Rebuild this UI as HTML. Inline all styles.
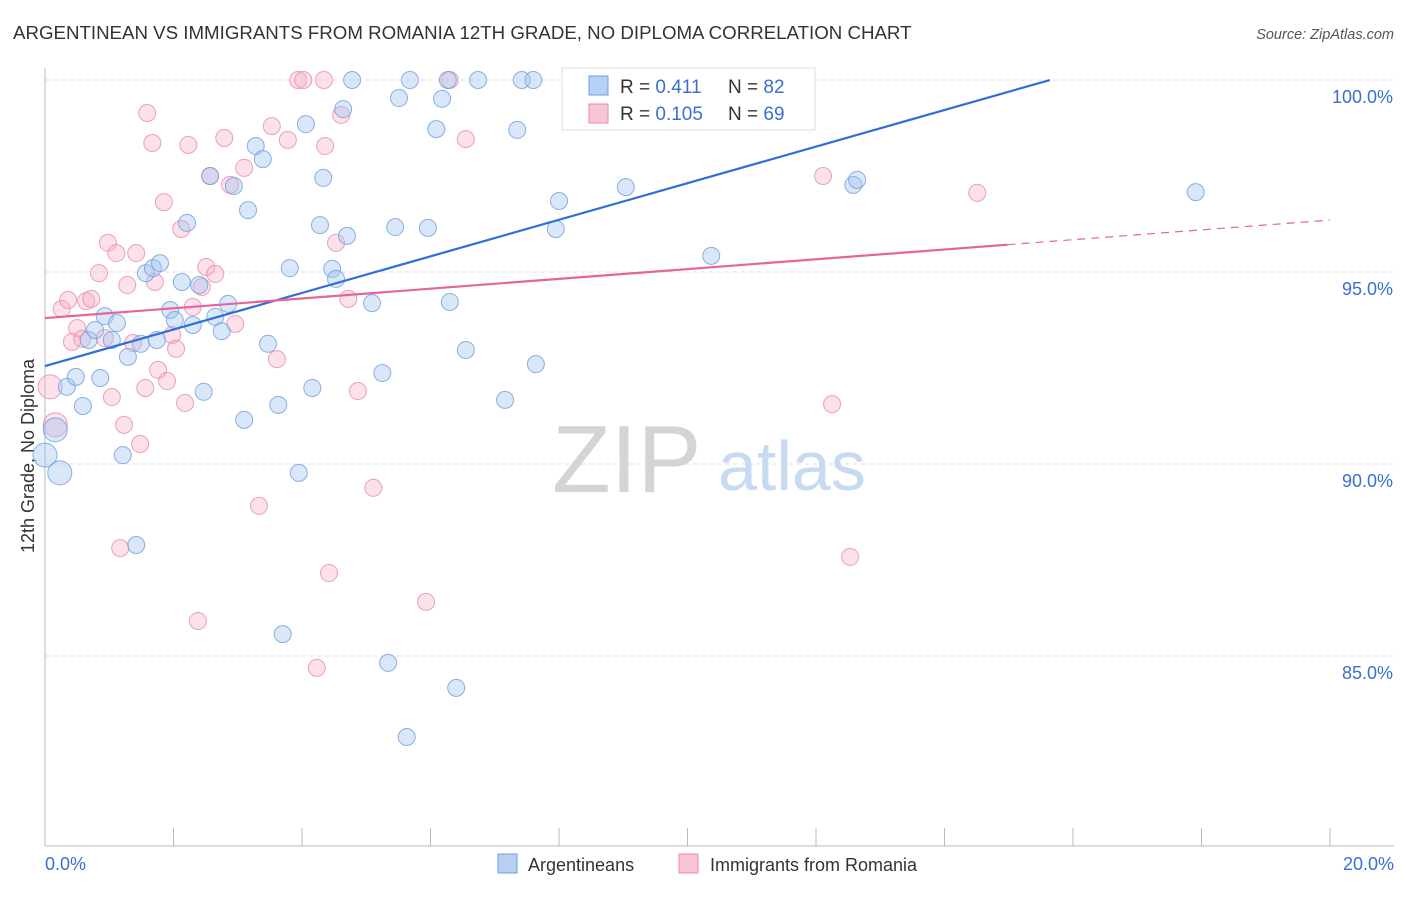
<!DOCTYPE html>
<html><head><meta charset="utf-8"><style>
body{margin:0;background:#fff;font-family:"Liberation Sans",sans-serif;}
svg text{font-family:"Liberation Sans",sans-serif;}
</style></head><body>
<svg id="c" width="1406" height="892" viewBox="0 0 1406 892">
<text x="13" y="39" font-size="18.7" fill="#333">ARGENTINEAN VS IMMIGRANTS FROM ROMANIA 12TH GRADE, NO DIPLOMA CORRELATION CHART</text>
<text x="1394" y="39" font-size="14.5" fill="#555" font-style="italic" text-anchor="end">Source: ZipAtlas.com</text>
<g id="grid"></g>
<g>
<text x="552" y="492" font-size="96" fill="#d4d4d4" font-family="Liberation Serif">ZIP</text>
<text x="718" y="490" font-size="70" fill="#c8daf2">atlas</text>
</g>
<line x1="45" y1="68" x2="45" y2="846" stroke="#bbb"/>
<line x1="45" y1="846" x2="1394" y2="846" stroke="#bbb"/>
<g id="xt"></g>
<g id="yt"></g>
<text x="45" y="870" font-size="18" fill="#3b6fd4">0.0%</text>
<text x="1394" y="870" font-size="18" fill="#3b6fd4" text-anchor="end">20.0%</text>
<text transform="translate(34,456) rotate(-90)" font-size="18" fill="#333" text-anchor="middle">12th Grade, No Diploma</text>
<g id="pts"></g>
<g id="lines"></g>
<g>
<rect x="562" y="68" width="253" height="62" fill="#fff" stroke="#ddd"/>
<rect x="589" y="76" width="19" height="19" fill="#b8d0f3" stroke="#6d9fe0"/>
<rect x="589" y="104" width="19" height="19" fill="#f8c5d6" stroke="#e88aab"/>
<text x="620" y="93" font-size="19" fill="#333">R = <tspan fill="#3b6fd4">0.411</tspan></text>
<text x="728" y="93" font-size="19" fill="#333">N = <tspan fill="#3b6fd4">82</tspan></text>
<text x="620" y="120" font-size="19" fill="#333">R = <tspan fill="#3b6fd4">0.105</tspan></text>
<text x="728" y="120" font-size="19" fill="#333">N = <tspan fill="#3b6fd4">69</tspan></text>
</g>
<g>
<rect x="498" y="854" width="19" height="19" fill="#b8d0f3" stroke="#6d9fe0"/>
<text x="528" y="871" font-size="18" fill="#333">Argentineans</text>
<rect x="679" y="854" width="19" height="19" fill="#f8c5d6" stroke="#e88aab"/>
<text x="710" y="871" font-size="18" fill="#333">Immigrants from Romania</text>
</g>
</svg>
<script>
const blueX=[0,.23,.16,.34,.48,.59,.86,.68,.78,.93,1.12,1.04,1.21,1.29,1.42,1.49,1.57,1.68,1.79,1.74,1.95,2.02,2.13,2.21,2.30,2.40,2.47,2.57,2.65,2.75,2.85,2.94,3.10,3.16,3.28,3.39,3.47,3.63,3.70,3.81,3.95,4.06,4.16,4.28,4.33,4.47,4.53,4.70,4.64,4.78,5.09,5.25,5.34,5.45,5.51,5.63,5.68,5.96,6.09,6.18,6.27,6.30,6.40,6.55,6.74,7.16,7.35,7.42,7.60,7.64,7.95,8.00,8.20,9.04,10.37,12.58,12.64,17.91];
const blueY=[90.23,89.77,90.89,92.01,92.27,91.51,92.24,93.23,93.49,93.85,93.67,93.23,90.23,92.79,87.89,93.13,94.97,95.10,95.23,93.23,94.01,93.75,94.74,96.28,93.62,94.66,91.88,97.50,93.83,93.46,94.17,97.24,91.15,96.61,98.28,97.94,93.13,91.54,85.57,95.10,89.77,98.85,91.98,96.22,97.45,95.08,94.82,95.94,99.24,100,94.19,92.37,84.82,96.17,99.53,82.89,100,96.15,98.72,99.51,100,94.22,84.17,92.97,100,91.67,98.70,100,100,92.60,96.12,96.85,100,97.21,95.42,97.27,97.40,97.08];
const pinkX=[.08,.16,.26,.36,.50,.42,.58,.64,.72,.84,.93,.98,1.04,1.11,1.17,1.23,1.28,1.37,1.42,1.48,1.56,1.59,1.67,1.71,1.76,1.85,1.90,1.98,2.04,2.12,2.18,2.23,2.30,2.38,2.44,2.51,2.57,2.65,2.79,2.88,2.96,3.10,3.33,3.53,3.61,3.78,3.94,4.02,4.34,4.36,4.42,4.23,4.53,4.61,4.72,4.87,5.11,5.93,6.30,6.55,12.11,12.25,12.53,14.51];
const pinkY=[92.01,91.02,94.04,94.27,93.54,93.18,93.26,94.24,94.30,94.97,93.28,95.76,91.74,95.49,87.81,91.02,94.66,93.15,95.49,90.52,91.98,99.14,98.36,94.74,92.45,96.82,92.16,93.36,93.00,96.12,91.59,98.31,94.09,85.91,94.61,95.13,97.50,94.95,98.49,97.27,93.65,97.71,88.91,98.80,92.73,98.44,100,100,100,98.28,87.16,84.69,95.76,99.09,94.30,91.90,89.38,86.41,100,98.46,97.50,91.56,87.58,97.06];
const yTicks=[100,95,90,85];
const yTickLabels=["100.0%","95.0%","90.0%","85.0%"];
const xTicks=[0,2,4,6,8,10,12,14,16,18,20];
const blueTrend=[92.55,0.4763,15.64];
const pinkTrend=[93.80,0.1276,14.98,20];
const NS="http://www.w3.org/2000/svg";
const sx=v=>45+v*64.25, sy=v=>80+(100-v)*38.4;
function mk(t,a,p){const e=document.createElementNS(NS,t);for(const k in a)e.setAttribute(k,a[k]);p.appendChild(e);return e;}
const grid=document.getElementById('grid'),yt=document.getElementById('yt'),xt=document.getElementById('xt');
yTicks.forEach((v,i)=>{
 const l=mk('line',{x1:45,x2:1394,y1:sy(v),y2:sy(v),stroke:'#ddd','stroke-dasharray':'4,4'},grid);
 
 
 const t=mk('text',{x:1393,y:sy(v)+23,'font-size':18,fill:'#3b6fd4','text-anchor':'end'},yt);
 t.textContent=yTickLabels[i];
 
 
});
xTicks.forEach(v=>{
 const l=mk('line',{x1:sx(v),x2:sx(v),y1:828,y2:846,stroke:'#bbb'},xt);
 
 
});
const pts=document.getElementById('pts');
function dots(X,Y,nBig,fill,stroke,name){X.forEach((x,i)=>{
 const r=(i<nBig)?12:8.5;
 const c=mk('circle',{cx:sx(x),cy:sy(Y[i]),r:r,fill:fill,stroke:stroke,'stroke-width':1,'stroke-opacity':0.8},pts);
 
 
});}
dots(pinkX,pinkY,2,'rgba(245,170,198,0.35)','#e88aab','point-romania');
dots(blueX,blueY,3,'rgba(160,194,240,0.4)','#6d9fe0','point-argentinean');
const lines=document.getElementById('lines');
let b=mk('line',{x1:sx(0),y1:sy(blueTrend[0]),x2:sx(blueTrend[2]),y2:sy(blueTrend[0]+blueTrend[1]*blueTrend[2]),stroke:'#2f6fd6','stroke-width':2.2},lines);


let p=mk('line',{x1:sx(0),y1:sy(pinkTrend[0]),x2:sx(pinkTrend[2]),y2:sy(pinkTrend[0]+pinkTrend[1]*pinkTrend[2]),stroke:'#e5649a','stroke-width':2.2},lines);


let pd=mk('line',{x1:sx(pinkTrend[2]),y1:sy(pinkTrend[0]+pinkTrend[1]*pinkTrend[2]),x2:sx(pinkTrend[3]),y2:sy(pinkTrend[0]+pinkTrend[1]*pinkTrend[3]),stroke:'#e5649a','stroke-width':1.2,'stroke-dasharray':'8,6'},lines);


</script>
</body></html>
